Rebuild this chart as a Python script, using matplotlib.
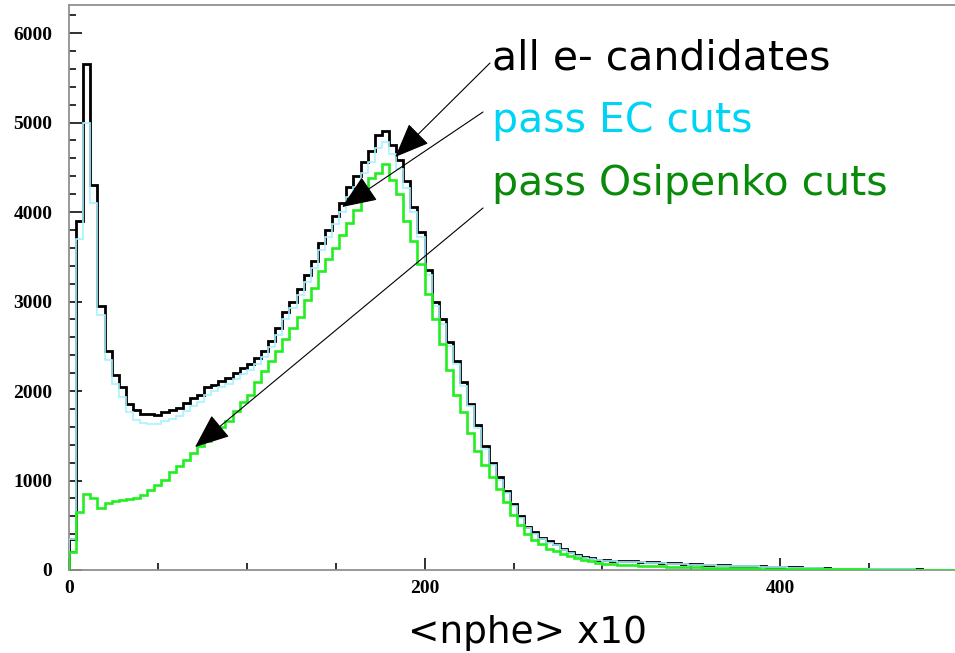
import numpy as np
import matplotlib.pyplot as plt
from matplotlib.ticker import MultipleLocator

# histogram of <nphe> x10, bins of 4 units from 0 to 500
BIN_WIDTH = 4
X_MAX = 500

all_e = [
    350, 3900, 5650, 4300, 2950, 2450, 2180, 2040, 1860, 1790,
    1740, 1740, 1730, 1760, 1790, 1810, 1870, 1920, 1960, 2040,
    2070, 2110, 2150, 2200, 2260, 2300, 2370, 2450, 2560, 2700,
    2880, 3000, 3140, 3300, 3450, 3650, 3800, 3960, 4100, 4280,
    4400, 4560, 4680, 4860, 4900, 4750, 4580, 4350, 4060, 3780,
    3350, 3000, 2800, 2550, 2340, 2100, 1860, 1620, 1380, 1200,
    1040, 880, 740, 600, 480, 420, 360, 320, 290, 240,
    200, 170, 145, 130, 115,
    108, 104, 100, 98, 95, 92, 88, 85, 82, 78,
    75, 70, 66, 62, 60, 56, 54, 52, 50, 48,
    46, 44, 40, 38, 36, 34, 30, 28, 25, 22,
    20, 18, 16, 15, 14, 13, 12, 12, 11, 10,
    9, 8, 8, 7, 6, 5, 5, 4, 3, 3,
]

pass_ec = [
    350, 3700, 5000, 4100, 2850, 2350, 2080, 1930, 1760, 1680,
    1640, 1630, 1630, 1660, 1690, 1720, 1780, 1830, 1880, 1960,
    2000, 2040, 2080, 2130, 2190, 2230, 2300, 2380, 2490, 2630,
    2800, 2930, 3070, 3220, 3370, 3570, 3720, 3870, 4000, 4170,
    4280, 4440, 4560, 4720, 4780, 4650, 4480, 4270, 4000, 3720,
    3300, 2950, 2750, 2500, 2300, 2060, 1830, 1590, 1350, 1170,
    1010, 860, 720, 580, 465, 405, 345, 305, 275, 228,
    190, 160, 137, 122, 108,
    100, 96, 92, 90, 87, 84, 80, 78, 75, 71,
    68, 64, 60, 57, 55, 51, 49, 47, 45, 44,
    42, 40, 36, 34, 33, 31, 27, 25, 23, 20,
    18, 16, 14, 13, 12, 11, 11, 10, 10, 9,
    8, 7, 7, 6, 5, 5, 4, 4, 3, 2,
]

pass_osipenko = [
    200, 650, 850, 800, 690, 750, 770, 780, 790, 800,
    840, 890, 950, 1010, 1100, 1160, 1230, 1310, 1380, 1440,
    1510, 1600, 1660, 1780, 1880, 1960, 2100, 2220, 2330, 2450,
    2580, 2700, 2830, 3020, 3150, 3340, 3480, 3600, 3740, 3880,
    4020, 4180, 4380, 4440, 4540, 4360, 4200, 3900, 3680, 3420,
    3080, 2800, 2520, 2230, 1960, 1760, 1530, 1330, 1170, 1040,
    910, 760, 610, 500, 400, 330, 285, 240, 210, 180,
    160, 130, 110, 95, 80,
    72, 66, 60, 56, 52, 48, 45, 42, 40, 37,
    35, 32, 30, 28, 26, 24, 22, 21, 20, 19,
    18, 17, 16, 15, 14, 13, 12, 11, 10, 10,
    9, 8, 8, 7, 7, 6, 6, 5, 5, 5,
    4, 4, 4, 3, 3, 3, 2, 2, 2, 2,
]

labels = ["all e- candidates", "pass EC cuts", "pass Osipenko cuts"]
label_colors = ["black", "#00d4f4", "#0a8a0a"]
# where each arrow points (data coords)
arrow_tips = [(183.5, 4615), (153.6, 4056), (70.9, 1374)]

edges = np.arange(0, X_MAX + BIN_WIDTH, BIN_WIDTH)

W, H = 955, 653
fig = plt.figure(figsize=(W / 100, H / 100), dpi=100)
ax = fig.add_axes([69 / W, 1 - 570 / H, 889 / W, 565 / H])

ax.stairs(all_e, edges, color="black", lw=2.0, zorder=3)
ax.stairs(pass_ec, edges, color="#a8f2ff", lw=1.2, zorder=4)
ax.stairs(pass_osipenko, edges, color="#22ee22", lw=1.9, zorder=5)

ax.set_xlim(0, X_MAX)
ax.set_ylim(0, 6313)

ax.xaxis.set_major_locator(MultipleLocator(200))
ax.xaxis.set_minor_locator(MultipleLocator(50))
ax.yaxis.set_major_locator(MultipleLocator(1000))
ax.yaxis.set_minor_locator(MultipleLocator(200))
ax.tick_params(which="both", direction="in", color="#303030", width=1.4,
               top=False, right=False)
ax.tick_params(which="major", length=9)
ax.tick_params(which="minor", length=5)
ax.tick_params(axis="y", which="major", pad=12)
ax.tick_params(axis="x", which="major", pad=7)
for lab in ax.get_xticklabels() + ax.get_yticklabels():
    lab.set_fontfamily("Liberation Serif")
    lab.set_fontweight("bold")
    lab.set_fontsize(14)

for side in ["left", "bottom", "top"]:
    ax.spines[side].set_color("#909090")
    ax.spines[side].set_linewidth(1.3)
ax.spines["right"].set_visible(False)

# labels with arrows
text_base = [70, 132, 195]
arrow_tails = [(490, 63), (483, 112), (483, 208)]
for lab, col, yb, tail, tip in zip(labels, label_colors, text_base, arrow_tails, arrow_tips):
    fig.text(492 / W, 1 - yb / H, lab, color=col, fontsize=29.5,
             family="DejaVu Sans", va="baseline", ha="left")
    ax.annotate("", xy=tip, xycoords="data",
                xytext=(tail[0], H - tail[1]), textcoords="figure pixels",
                arrowprops=dict(arrowstyle="-|>,head_length=1.1,head_width=0.45",
                                mutation_scale=20, color="black", lw=0.8,
                                shrinkA=0, shrinkB=0),
                zorder=6)

fig.text(528 / W, 1 - 643 / H, "<nphe> x10", fontsize=27, family="DejaVu Sans",
         ha="center", va="baseline")

fig.savefig("out.png", dpi=100)
